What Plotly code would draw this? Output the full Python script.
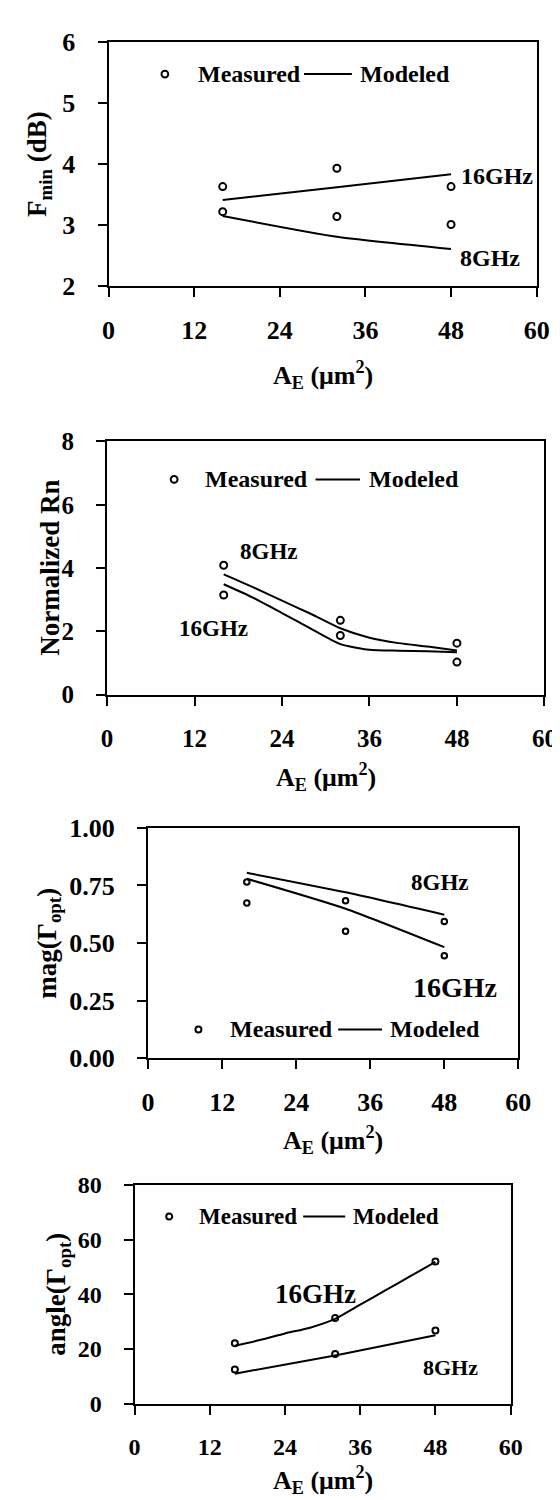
import plotly.graph_objects as go

W, H = 560, 1500
FONT = "Liberation Serif"

# ---------------- data ----------------
area = [16, 32, 48]  # emitter area A_E (um^2)

# Panel 1: Fmin (dB)
fmin_meas_16 = [3.63, 3.93, 3.63]
fmin_meas_8 = [3.22, 3.14, 3.01]
fmin_model_16 = [3.41, 3.62, 3.83]
fmin_model_8 = [3.15, 2.81, 2.61]

# Panel 2: normalized Rn
rn_meas_8 = [4.09, 2.35, 1.63]
rn_meas_16 = [3.15, 1.87, 1.03]
rn_model_x = [16, 20, 24, 28, 32, 36, 40, 44, 48]
rn_model_8 = [3.80, 3.40, 2.97, 2.55, 2.10, 1.80, 1.63, 1.52, 1.40]
rn_model_16 = [3.49, 3.07, 2.58, 2.08, 1.60, 1.42, 1.39, 1.37, 1.34]

# Panel 3: mag(Gamma_opt)
mag_meas_8 = [0.765, 0.683, 0.593]
mag_meas_16 = [0.674, 0.551, 0.445]
mag_model_8 = [0.805, 0.720, 0.623]
mag_model_16 = [0.779, 0.649, 0.482]

# Panel 4: angle(Gamma_opt)
ang_meas_16 = [22.1, 31.3, 52.0]
ang_meas_8 = [12.5, 18.2, 26.8]
ang_model_x16 = [16, 20, 24, 28, 32, 36, 40, 44, 48]
ang_model_16 = [21.2, 23.3, 25.7, 27.8, 31.0, 36.2, 41.4, 46.6, 51.8]
ang_model_8 = [11.0, 17.6, 25.0]

x_ticks = [0, 12, 24, 36, 48, 60]
y_titles = ["F<sub>min</sub> (dB)", "Normalized Rn", "mag(Γ<sub>opt</sub>)", "angle(Γ<sub>opt</sub>)"]
x_title = "A<sub>E</sub> (μm<sup>2</sup>)"

# ---------------- layout geometry (pixels) ----------------
# (left, right, top, bottom) of each plot area
boxes = [(97, 541, 20, 269.5), (95.5, 549, 427.7, 686), (138, 522, 821.7, 1056.7), (124, 514, 1185.7, 1409)]
y_ranges = [[2, 6], [0, 8], [0, 1], [0, 80]]
y_dticks = [1, 2, 0.25, 20]
y_fmt = ["d", "d", ".2f", "d"]
tick_sizes = [26, 25, 26, 24]
x_title_y = [360, 770, 1140, 1487]
y_title_x = [25, 36, 35, 45]
marker_sizes = [7, 7, 5.5, 6]
legend_sizes = [24, 24, 24, 23]

fig = go.Figure()

def add_panel(i, series):
    xa = "x" if i == 0 else f"x{i+1}"
    ya = "y" if i == 0 else f"y{i+1}"
    for (xs, ys, kind) in series:
        if kind == "m":
            fig.add_trace(go.Scatter(x=xs, y=ys, mode="markers", xaxis=xa, yaxis=ya, showlegend=False,
                                     marker=dict(symbol="circle-open", size=marker_sizes[i], color="black",
                                                 line=dict(width=2, color="black"))))
        else:
            fig.add_trace(go.Scatter(x=xs, y=ys, mode="lines", xaxis=xa, yaxis=ya, showlegend=False,
                                     line=dict(color="black", width=2, shape="spline", smoothing=0.6)))

add_panel(0, [(area, fmin_model_16, "l"), (area, fmin_model_8, "l"),
              (area, fmin_meas_16, "m"), (area, fmin_meas_8, "m")])
add_panel(1, [(rn_model_x, rn_model_8, "l"), (rn_model_x, rn_model_16, "l"),
              (area, rn_meas_8, "m"), (area, rn_meas_16, "m")])
add_panel(2, [(area, mag_model_8, "l"), (area, mag_model_16, "l"),
              (area, mag_meas_8, "m"), (area, mag_meas_16, "m")])
add_panel(3, [(ang_model_x16, ang_model_16, "l"), (area, ang_model_8, "l"),
              (area, ang_meas_16, "m"), (area, ang_meas_8, "m")])

layout = dict(width=W, height=H, margin=dict(l=0, r=0, t=0, b=0),
              paper_bgcolor="white", plot_bgcolor="white", showlegend=False)

for i, (l, r, t, b) in enumerate(boxes):
    sfx = "" if i == 0 else str(i + 1)
    tickfont = dict(family=FONT, size=tick_sizes[i], color="black", weight="bold")
    layout["xaxis" + sfx] = dict(
        domain=[l / W, r / W], anchor="y" + sfx, range=[0, 60], tickvals=x_ticks,
        showline=True, mirror=True, linecolor="black", linewidth=2,
        ticks="outside", ticklen=9, tickwidth=2, tickcolor="black",
        showgrid=False, zeroline=False, tickfont=tickfont, ticklabelstandoff=11)
    layout["yaxis" + sfx] = dict(
        domain=[1 - b / H, 1 - t / H], anchor="x" + sfx, range=y_ranges[i],
        tick0=y_ranges[i][0], dtick=y_dticks[i], tickformat=y_fmt[i],
        showline=True, mirror=True, linecolor="black", linewidth=2,
        ticks="outside", ticklen=9, tickwidth=2, tickcolor="black",
        showgrid=False, zeroline=False, tickfont=tickfont, ticklabelstandoff=17)

annotations = []
shapes = []
for i, (l, r, t, b) in enumerate(boxes):
    annotations.append(dict(xref="paper", yref="paper", x=(l + r) / 2 / W, y=1 - x_title_y[i] / H,
                            text=x_title, showarrow=False, xanchor="center", yanchor="middle",
                            font=dict(family=FONT, size=26, color="black", weight="bold")))
    annotations.append(dict(xref="paper", yref="paper", x=y_title_x[i] / W, y=1 - (t + b) / 2 / H,
                            text=y_titles[i], showarrow=False, textangle=-90, xanchor="center", yanchor="middle",
                            font=dict(family=FONT, size=27, color="black", weight="bold")))

# legend keys per panel (data units): circle x, y, text start, line start, line end, modeled text start
legend_pos = [(7.9, 5.47, 12.2, 27.4, 34.1, 35.0),
              (9.2, 6.8, 13.2, 28.6, 34.7, 35.7),
              (8.16, 0.125, 12.96, 30.8, 37.9, 38.9),
              (5.53, 68.4, 9.9, 26.9, 33.6, 34.5)]
for i, (cx, cy, tx, l0, l1, mx) in enumerate(legend_pos):
    xa = "x" if i == 0 else f"x{i+1}"
    ya = "y" if i == 0 else f"y{i+1}"
    rr = 3.4 if i < 2 else 3.0
    shapes.append(dict(type="circle", xref=xa, yref=ya, xsizemode="pixel", ysizemode="pixel",
                       xanchor=cx, yanchor=cy, x0=-rr, x1=rr, y0=-rr, y1=rr,
                       line=dict(color="black", width=2)))
    shapes.append(dict(type="line", xref=xa, yref=ya, x0=l0, x1=l1, y0=cy, y1=cy,
                       line=dict(color="black", width=2)))
    for txt, xx in (("Measured", tx), ("Modeled", mx)):
        annotations.append(dict(xref=xa, yref=ya, x=xx, y=cy, text=txt, showarrow=False,
                                xanchor="left", yanchor="middle",
                                font=dict(family=FONT, size=legend_sizes[i], color="black", weight="bold")))

# frequency labels: (panel, text, x, y, size)
freq_labels = [(0, "16GHz", 54.5, 3.81, 24), (0, "8GHz", 53.4, 2.46, 24),
               (1, "8GHz", 22.2, 4.52, 23), (1, "16GHz", 14.6, 2.09, 23),
               (2, "8GHz", 47.3, 0.762, 23), (2, "16GHz", 49.8, 0.309, 28),
               (3, "16GHz", 28.9, 40.0, 27), (3, "8GHz", 50.4, 13.1, 22)]
for (i, txt, xx, yy, sz) in freq_labels:
    xa = "x" if i == 0 else f"x{i+1}"
    ya = "y" if i == 0 else f"y{i+1}"
    annotations.append(dict(xref=xa, yref=ya, x=xx, y=yy, text=txt, showarrow=False,
                            xanchor="center", yanchor="middle",
                            font=dict(family=FONT, size=sz, color="black", weight="bold")))

layout["annotations"] = annotations
layout["shapes"] = shapes
fig.update_layout(**layout)
fig.write_html("out.html")
